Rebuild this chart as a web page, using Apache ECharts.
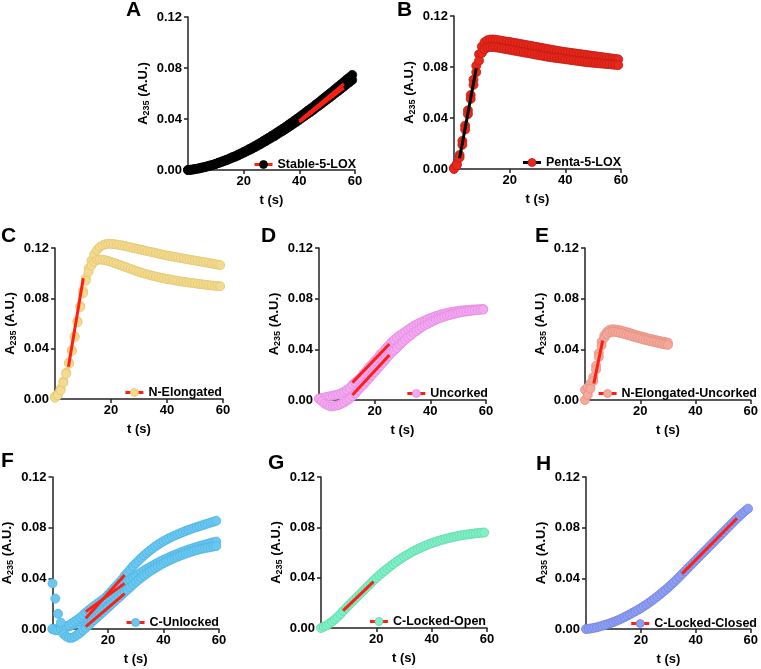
<!DOCTYPE html>
<html><head><meta charset="utf-8">
<script src="https://cdn.jsdelivr.net/npm/echarts/dist/echarts.min.js"></script>
<style>html,body{margin:0;padding:0;background:#fff}#c{width:761px;height:669px}</style>
</head><body><div id="c"></div>
<script>
// ---------- data ----------
const time60 = [0,1,2,3,4,5,6,7,8,9,10,11,12,13,14,15,16,17,18,19,20,21,22,23,24,25,26,27,28,29,30,31,32,33,34,35,36,37,38,39,40,41,42,43,44,45,46,47,48,49,50,51,52,53,54,55,56,57,58,59];
const time31 = [0,1,2,3,4,5,6,7,8,9,10,11,12,13,14,15,16,17,18,19,20,21,22,23,24,25,26,27,28,29,30];
const xTicks = [0,20,40,60];
const yTicks = [0,0.04,0.08,0.12];
const panelLabels = ['A','B','C','D','E','F','G','H'];
const seriesNames = ['Stable-5-LOX','Penta-5-LOX','N-Elongated','Uncorked','N-Elongated-Uncorked','C-Unlocked','C-Locked-Open','C-Locked-Closed'];

const stable1 = [0,0.0002,0.0005,0.0009,0.0013,0.0019,0.0024,0.0030,0.0036,0.0042,0.0049,0.0058,0.0066,0.0074,0.0082,0.0092,0.0101,0.0110,0.0121,0.0131,0.0142,0.0153,0.0165,0.0176,0.0188,0.0201,0.0213,0.0227,0.0240,0.0253,0.0267,0.0280,0.0295,0.0309,0.0323,0.0338,0.0353,0.0369,0.0384,0.0400,0.0415,0.0432,0.0448,0.0465,0.0481,0.0497,0.0515,0.0531,0.0549,0.0567,0.0584,0.0602,0.0619,0.0637,0.0655,0.0673,0.0691,0.0710,0.0727,0.0746];
const stable2 = [0,0.0002,0.0005,0.0009,0.0013,0.0018,0.0022,0.0028,0.0034,0.0040,0.0047,0.0055,0.0062,0.0070,0.0078,0.0087,0.0096,0.0104,0.0114,0.0124,0.0135,0.0145,0.0156,0.0167,0.0178,0.0190,0.0202,0.0215,0.0227,0.0240,0.0253,0.0265,0.0279,0.0293,0.0306,0.0320,0.0334,0.0349,0.0364,0.0378,0.0393,0.0409,0.0424,0.0440,0.0455,0.0471,0.0488,0.0503,0.0520,0.0536,0.0553,0.0569,0.0586,0.0603,0.0620,0.0637,0.0654,0.0672,0.0688,0.0706];
const penta1 = [0.001,0.004,0.011,0.022,0.034,0.046,0.058,0.070,0.081,0.090,0.096,0.0995,0.1010,0.1015,0.1016,0.1014,0.1010,0.1006,0.1002,0.0999,0.0996,0.0992,0.0988,0.0984,0.0980,0.0976,0.0972,0.0968,0.0964,0.0960,0.0956,0.0952,0.0948,0.0944,0.0940,0.0936,0.0932,0.0928,0.0924,0.0920,0.0917,0.0914,0.0911,0.0908,0.0905,0.0902,0.0899,0.0896,0.0893,0.0890,0.0887,0.0884,0.0881,0.0878,0.0875,0.0872,0.0869,0.0866,0.0863,0.0860];
const penta2 = [0.000,0.003,0.009,0.019,0.031,0.043,0.055,0.066,0.076,0.085,0.091,0.094,0.0952,0.0956,0.0956,0.0954,0.0951,0.0947,0.0943,0.0939,0.0935,0.0931,0.0927,0.0923,0.0919,0.0915,0.0911,0.0907,0.0903,0.0899,0.0895,0.0891,0.0887,0.0883,0.0879,0.0876,0.0873,0.0870,0.0867,0.0864,0.0861,0.0858,0.0855,0.0852,0.0849,0.0846,0.0843,0.0840,0.0837,0.0835,0.0833,0.0831,0.0829,0.0827,0.0825,0.0823,0.0821,0.0819,0.0817,0.0815];
const nElong1 = [0.002,0.004,0.008,0.014,0.021,0.029,0.039,0.050,0.062,0.074,0.086,0.096,0.104,0.110,0.115,0.1185,0.1208,0.1222,0.1230,0.1233,0.1233,0.1231,0.1228,0.1224,0.1220,0.1215,0.1210,0.1205,0.1200,0.1195,0.1190,0.1185,0.1180,0.1175,0.1170,0.1165,0.1160,0.1155,0.1150,0.1145,0.1140,0.1136,0.1132,0.1128,0.1124,0.1120,0.1116,0.1112,0.1108,0.1104,0.1100,0.1096,0.1092,0.1088,0.1084,0.1080,0.1076,0.1072,0.1068,0.1064];
const nElong2 = [0.001,0.003,0.007,0.013,0.020,0.028,0.038,0.049,0.061,0.073,0.084,0.094,0.101,0.106,0.109,0.1105,0.1108,0.1107,0.1103,0.1097,0.1090,0.1082,0.1074,0.1066,0.1058,0.1050,0.1042,0.1034,0.1026,0.1018,0.1010,0.1003,0.0996,0.0990,0.0984,0.0978,0.0973,0.0968,0.0963,0.0958,0.0954,0.0950,0.0946,0.0942,0.0938,0.0934,0.0931,0.0928,0.0925,0.0922,0.0919,0.0916,0.0913,0.0910,0.0907,0.0904,0.0902,0.0900,0.0898,0.0896];
const uncorked1 = [0.001,0.0015,0.002,0.0025,0.003,0.0035,0.004,0.0045,0.0055,0.0065,0.008,0.0095,0.012,0.014,0.016,0.018,0.021,0.023,0.026,0.028,0.031,0.033,0.036,0.038,0.041,0.043,0.0455,0.0475,0.0493,0.051,0.0525,0.054,0.0555,0.057,0.0585,0.0597,0.0608,0.0618,0.0628,0.0638,0.0647,0.0655,0.0663,0.0670,0.0676,0.0682,0.0687,0.0692,0.0696,0.0700,0.0703,0.0706,0.0708,0.0710,0.0712,0.0714,0.0715,0.0716,0.0717,0.0718];
const uncorked2 = [0.001,-0.001,-0.003,-0.004,-0.005,-0.005,-0.0045,-0.004,-0.003,-0.002,-0.0005,0.001,0.003,0.005,0.0075,0.010,0.012,0.0145,0.017,0.0195,0.022,0.0245,0.027,0.0295,0.032,0.0345,0.037,0.039,0.041,0.0435,0.0455,0.0475,0.0495,0.051,0.053,0.0545,0.056,0.0575,0.059,0.060,0.0612,0.0623,0.0633,0.0642,0.065,0.0658,0.0665,0.0671,0.0677,0.0682,0.0687,0.0692,0.0696,0.0699,0.0702,0.0705,0.0708,0.071,0.0712,0.0714];
const nElongUnc1 = [0.008,0.010,0.013,0.018,0.027,0.037,0.046,0.051,0.054,0.0555,0.0558,0.0557,0.0553,0.0548,0.0542,0.0536,0.0530,0.0523,0.0516,0.0510,0.0504,0.0498,0.0492,0.0486,0.0481,0.0476,0.0471,0.0466,0.0461,0.0457,0.0453];
const nElongUnc2 = [0.000,0.004,0.009,0.015,0.024,0.034,0.043,0.049,0.052,0.0535,0.0538,0.0537,0.0533,0.0528,0.0522,0.0516,0.0510,0.0503,0.0497,0.0491,0.0485,0.0479,0.0473,0.0468,0.0463,0.0458,0.0453,0.0448,0.0443,0.0439,0.0435];
const cUnlocked1 = [0.000,0.000,0.000,0.0005,0.001,0.0015,0.002,0.003,0.004,0.0050,0.0060,0.0072,0.0086,0.0105,0.0127,0.0150,0.0174,0.0198,0.0222,0.0246,0.0270,0.0294,0.0318,0.0342,0.0366,0.0390,0.0420,0.0445,0.0470,0.0495,0.0518,0.0540,0.0561,0.0581,0.0600,0.0618,0.0635,0.0651,0.0666,0.0680,0.0693,0.0705,0.0716,0.0727,0.0737,0.0747,0.0756,0.0765,0.0774,0.0782,0.0790,0.0798,0.0805,0.0812,0.0819,0.0826,0.0833,0.0840,0.0847,0.0854];
const cUnlocked2 = [0.000,-0.001,-0.001,0.000,0.001,0.002,0.003,0.0045,0.006,0.0075,0.009,0.011,0.0130,0.0148,0.0165,0.0182,0.0198,0.0214,0.0230,0.0246,0.0262,0.0278,0.0294,0.0310,0.0326,0.0342,0.0358,0.0374,0.0390,0.0405,0.0420,0.0434,0.0448,0.0462,0.0475,0.0488,0.0500,0.0512,0.0524,0.0535,0.0546,0.0556,0.0566,0.0576,0.0585,0.0594,0.0603,0.0611,0.0619,0.0627,0.0634,0.0641,0.0648,0.0655,0.0661,0.0667,0.0673,0.0679,0.0685,0.0690];
const cUnlocked3 = [0.036,0.024,0.012,0.005,-0.004,-0.006,-0.007,-0.007,-0.006,-0.0045,-0.003,-0.001,0.001,0.003,0.005,0.007,0.009,0.011,0.013,0.015,0.017,0.019,0.021,0.023,0.025,0.027,0.029,0.031,0.033,0.035,0.037,0.0388,0.0405,0.0422,0.0438,0.0453,0.0467,0.0481,0.0494,0.0507,0.0519,0.0530,0.0541,0.0551,0.0561,0.0570,0.0579,0.0587,0.0595,0.0603,0.0610,0.0617,0.0623,0.0629,0.0634,0.0639,0.0643,0.0647,0.0651,0.0655];
const cLockedOpen = [0.000,0.001,0.002,0.0035,0.005,0.0068,0.0088,0.011,0.0135,0.0158,0.0180,0.0202,0.0224,0.0246,0.0268,0.0290,0.0312,0.0334,0.0356,0.0378,0.0398,0.0418,0.0437,0.0455,0.0473,0.0490,0.0507,0.0523,0.0538,0.0553,0.0567,0.0580,0.0593,0.0605,0.0617,0.0628,0.0638,0.0648,0.0657,0.0666,0.0674,0.0682,0.0689,0.0696,0.0702,0.0708,0.0714,0.0719,0.0724,0.0729,0.0733,0.0737,0.0741,0.0744,0.0747,0.0750,0.0753,0.0755,0.0757,0.0759];
const cLockedClosed = [0.0000,0.0002,0.0005,0.0009,0.0014,0.0020,0.0026,0.0033,0.0040,0.0047,0.0055,0.0064,0.0073,0.0083,0.0094,0.0105,0.0116,0.0128,0.0140,0.0152,0.0165,0.0179,0.0193,0.0208,0.0224,0.0240,0.0257,0.0274,0.0292,0.0310,0.0329,0.0349,0.0369,0.0390,0.0412,0.0434,0.0456,0.0478,0.0500,0.0522,0.0544,0.0566,0.0588,0.0610,0.0632,0.0654,0.0676,0.0698,0.0720,0.0742,0.0764,0.0786,0.0808,0.0830,0.0852,0.0873,0.0894,0.0914,0.0933,0.0950];

// fitted initial-rate lines: [t, value] end points
const fitA1 = [[40,0.0385],[56,0.0675]];
const fitA2 = [[40,0.0375],[56,0.0645]];
const fitB = [[2,0.0085],[8,0.079]];
const fitC = [[4.8,0.0257],[10.1,0.096]];
const fitD1 = [[12,0.0137],[25.3,0.0442]];
const fitD2 = [[12,0.0039],[25.3,0.0355]];
const fitE = [[3.2,0.013],[6.4,0.047]];
const fitF1 = [[12,0.0084],[26,0.0426]];
const fitF2 = [[12,0.0137],[26,0.036]];
const fitF3 = [[12,0.0018],[26,0.028]];
const fitG = [[8,0.0138],[19,0.0368]];
const fitH = [[35,0.0437],[55,0.0874]];

// ---------- layout / style ----------
const FONT = '"Liberation Sans", Arial, Helvetica, sans-serif';
const RED = '#ff1f12';
const panels = [
  {grid:[188,17,167,153], fill:'#000000', border:'#000000', fit:RED, time:time60, traces:[stable1,stable2], fits:[fitA1,fitA2], legend:[405,158], letter:[126,0]},
  {grid:[454,16,167,153], fill:'#e8281c', border:'#c01a10', fit:'#000000', time:time60, traces:[penta1,penta2], fits:[fitB], legend:[140,156], letter:[397,0]},
  {grid:[55,248,168,151], fill:'#f3da8e', border:'#e2c673', fit:RED, time:time60, traces:[nElong1,nElong2], fits:[fitC], legend:[539,386], letter:[1,226]},
  {grid:[319,248,167,152], fill:'#f4a8f2', border:'#e28ce0', fit:RED, time:time60, traces:[uncorked1,uncorked2], fits:[fitD1,fitD2], legend:[273,387], letter:[261,226]},
  {grid:[585,248,167,152], fill:'#f4a99c', border:'#e48e80', fit:RED, time:time31, traces:[nElongUnc1,nElongUnc2], fits:[fitE], legend:[4,387], letter:[535,226]},
  {grid:[52,477,167,152], fill:'#6ac8f0', border:'#4fb3e2', fit:RED, time:time60, traces:[cUnlocked1,cUnlocked2,cUnlocked3], fits:[fitF1,fitF2,fitF3], legend:[542,616], letter:[1,451]},
  {grid:[321,477,166,151], fill:'#80f0c6', border:'#62d9ac', fit:RED, time:time60, traces:[cLockedOpen], fits:[fitG], legend:[275,615], letter:[268,453]},
  {grid:[586,477,166,152], fill:'#8e9ef2', border:'#7384e2', fit:RED, time:time60, traces:[cLockedClosed], fits:[fitH], legend:[4,617], letter:[536,454]}
];

const grids=[], xAxes=[], yAxes=[], series=[], legends=[], titles=[];
panels.forEach((p,i)=>{
  grids.push({left:p.grid[0], top:p.grid[1], width:p.grid[2], height:p.grid[3], containLabel:false});
  xAxes.push({gridIndex:i, type:'value', min:xTicks[0], max:xTicks[xTicks.length-1], interval:xTicks[1]-xTicks[0],
    splitLine:{show:false},
    axisLine:{show:true, onZero:false, lineStyle:{color:'#222', width:1.5}},
    axisTick:{show:true, length:4, lineStyle:{color:'#222', width:1.5}},
    axisLabel:{showMinLabel:false, margin:5, color:'#000', fontFamily:FONT, fontWeight:'bold', fontSize:13},
    name:'t (s)', nameLocation:'middle', nameGap:24,
    nameTextStyle:{color:'#000', fontFamily:FONT, fontWeight:'bold', fontSize:13}});
  yAxes.push({gridIndex:i, type:'value', min:yTicks[0], max:yTicks[yTicks.length-1], interval:yTicks[1]-yTicks[0],
    splitLine:{show:false},
    axisLine:{show:true, onZero:false, lineStyle:{color:'#222', width:1.5}},
    axisTick:{show:true, length:4, lineStyle:{color:'#222', width:1.5}},
    axisLabel:{margin:6, color:'#000', fontFamily:FONT, fontWeight:'bold', fontSize:13, formatter:v=>v.toFixed(2)},
    name:'{a|A}{s|235}{a| (A.U.)}', nameLocation:'middle', nameRotate:90, nameGap:37,
    nameTextStyle:{color:'#000', fontFamily:FONT, fontWeight:'bold', fontSize:13,
      rich:{a:{fontFamily:FONT, fontWeight:'bold', fontSize:13, color:'#000'},
            s:{fontFamily:FONT, fontWeight:'bold', fontSize:9, color:'#000', padding:[7,0,0,0]}}}});
  p.traces.forEach(tr=>{
    series.push({type:'line', name:seriesNames[i], xAxisIndex:i, yAxisIndex:i, z:3,
      data:p.time.map((t,k)=>[t,tr[k]]), symbol:'circle', symbolSize:9, showSymbol:true, showAllSymbol:true,
      clip:false, silent:true, lineStyle:{width:0, opacity:0},
      itemStyle:{color:p.fill, borderColor:p.border, borderWidth:0.8}, emphasis:{disabled:true}});
  });
  p.fits.forEach((f,j)=>{
    series.push({type:'line', name:seriesNames[i]+' fit '+(j+1), xAxisIndex:i, yAxisIndex:i, data:f,
      symbol:'none', clip:false, silent:true, z:20, lineStyle:{color:p.fit, width:3}, emphasis:{disabled:true}});
  });
  legends.push({right:p.legend[0], top:p.legend[1], padding:0, itemWidth:18, itemHeight:10, itemGap:0, selectedMode:false, z:30,
    textStyle:{color:'#000', fontFamily:FONT, fontWeight:'bold', fontSize:12.5},
    data:[{name:seriesNames[i], lineStyle:{color:p.fit, width:3, opacity:1, type:'solid'}, itemStyle:{color:p.fill, borderColor:p.border, borderWidth:0.8, opacity:1}}]});
  titles.push({text:panelLabels[i], left:p.letter[0], top:p.letter[1], padding:0,
    textStyle:{color:'#000', fontFamily:FONT, fontWeight:'bold', fontSize:21}});
});

const chart = echarts.init(document.getElementById('c'), null, {renderer:'canvas'});
chart.setOption({animation:false, backgroundColor:'#fff', title:titles, grid:grids, xAxis:xAxes, yAxis:yAxes, legend:legends, series:series, tooltip:{show:false}});
</script></body></html>
